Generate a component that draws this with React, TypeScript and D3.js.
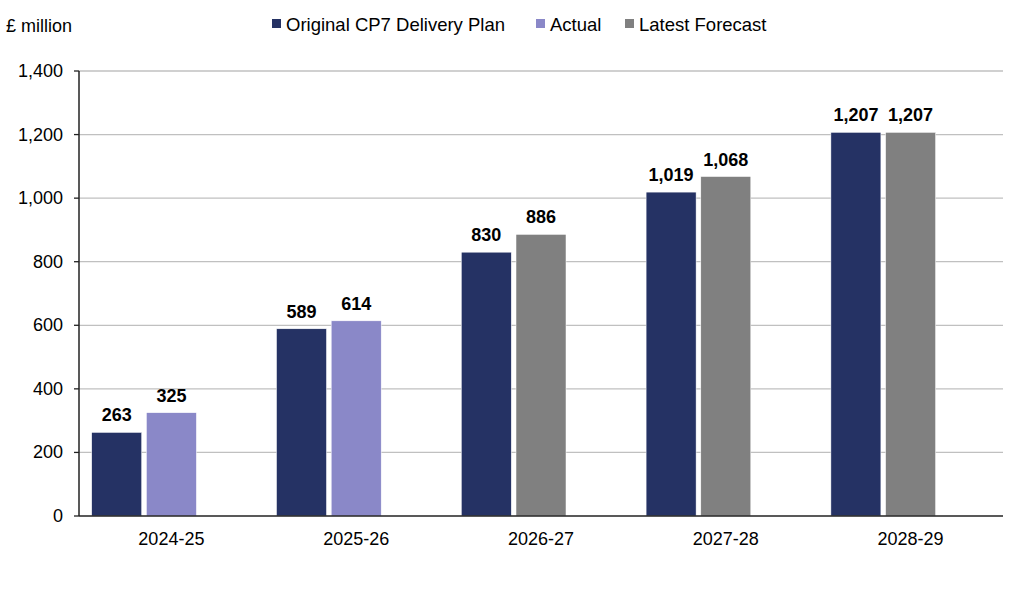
import React from 'react'
import * as d3 from 'd3'

const width = 1032
const height = 597
const margin = { top: 71, right: 29, bottom: 81, left: 79 }

const years = ['2024-25', '2025-26', '2026-27', '2027-28', '2028-29']
const originalPlan = [263, 589, 830, 1019, 1207]
const actual: (number | null)[] = [325, 614, null, null, null]
const latestForecast: (number | null)[] = [null, null, 886, 1068, 1207]
const yTicks = [0, 200, 400, 600, 800, 1000, 1200, 1400]

const colors = {
  original: '#253264',
  actual: '#8a88c8',
  forecast: '#808080',
}

const legendItems = [
  { label: 'Original CP7 Delivery Plan', color: colors.original, x: 272 },
  { label: 'Actual', color: colors.actual, x: 536 },
  { label: 'Latest Forecast', color: colors.forecast, x: 625 },
]

const font = '"Liberation Sans", Arial, sans-serif'
const fmt = d3.format(',')

export default function App() {
  const innerW = width - margin.left - margin.right
  const innerH = height - margin.top - margin.bottom

  const x = d3.scaleBand<string>().domain(years).range([0, innerW]).paddingInner(0).paddingOuter(0)
  // three slots per category (Excel clustered layout); actual & forecast share slot 1
  const slot = d3
    .scaleBand<number>()
    .domain([0, 1, 2])
    .range([12.7, x.bandwidth() - 12.7])
    .paddingInner(0.086)
  const y = d3.scaleLinear().domain([0, 1400]).range([innerH, 0])

  const bars: { key: string; year: string; value: number; slotIdx: number; color: string }[] = []
  years.forEach((yr, i) => {
    bars.push({ key: 'o' + i, year: yr, value: originalPlan[i], slotIdx: 0, color: colors.original })
    const a = actual[i]
    if (a != null) bars.push({ key: 'a' + i, year: yr, value: a, slotIdx: 1, color: colors.actual })
    const f = latestForecast[i]
    if (f != null) bars.push({ key: 'f' + i, year: yr, value: f, slotIdx: 1, color: colors.forecast })
  })

  return (
    <svg
      width={width}
      height={height}
      style={{ position: 'absolute', left: 0, top: 0, background: '#fff', fontFamily: font }}
    >
      <text x={6} y={32} fontSize={18} fill="#000">
        £ million
      </text>

      {legendItems.map((d) => (
        <g key={d.label} transform={`translate(${d.x},0)`}>
          <rect x={0} y={19} width={9} height={9} fill={d.color} />
          <text x={14} y={31} fontSize={18.5} fill="#000">
            {d.label}
          </text>
        </g>
      ))}

      <g transform={`translate(${margin.left},${margin.top})`}>
        {yTicks.map((t) => (
          <g key={t} transform={`translate(0,${y(t)})`}>
            {t > 0 && <line x1={0} x2={innerW} stroke="#c0c0c0" strokeWidth={1.3} />}
            <line x1={-5} x2={0} stroke="#222" strokeWidth={1.3} />
            <text x={-16} y={6} fontSize={18} textAnchor="end" fill="#000">
              {fmt(t)}
            </text>
          </g>
        ))}

        {bars.map((b) => {
          const bx = (x(b.year) || 0) + (slot(b.slotIdx) || 0)
          const by = y(b.value)
          return (
            <g key={b.key}>
              <rect
                x={bx}
                y={by}
                width={slot.bandwidth()}
                height={innerH - by}
                fill={b.color}
                stroke="#fff"
                strokeWidth={0.5}
              />
              <text
                x={bx + slot.bandwidth() / 2}
                y={by - 11}
                fontSize={18}
                fontWeight="bold"
                textAnchor="middle"
                fill="#000"
              >
                {fmt(b.value)}
              </text>
            </g>
          )
        })}

        <line x1={0} x2={0} y1={0} y2={innerH} stroke="#222" strokeWidth={1.5} />
        <line x1={0} x2={innerW} y1={innerH} y2={innerH} stroke="#222" strokeWidth={1.5} />

        {years.map((yr) => (
          <text
            key={yr}
            x={(x(yr) || 0) + x.bandwidth() / 2}
            y={innerH + 29}
            fontSize={18}
            textAnchor="middle"
            fill="#000"
          >
            {yr}
          </text>
        ))}
      </g>
    </svg>
  )
}
